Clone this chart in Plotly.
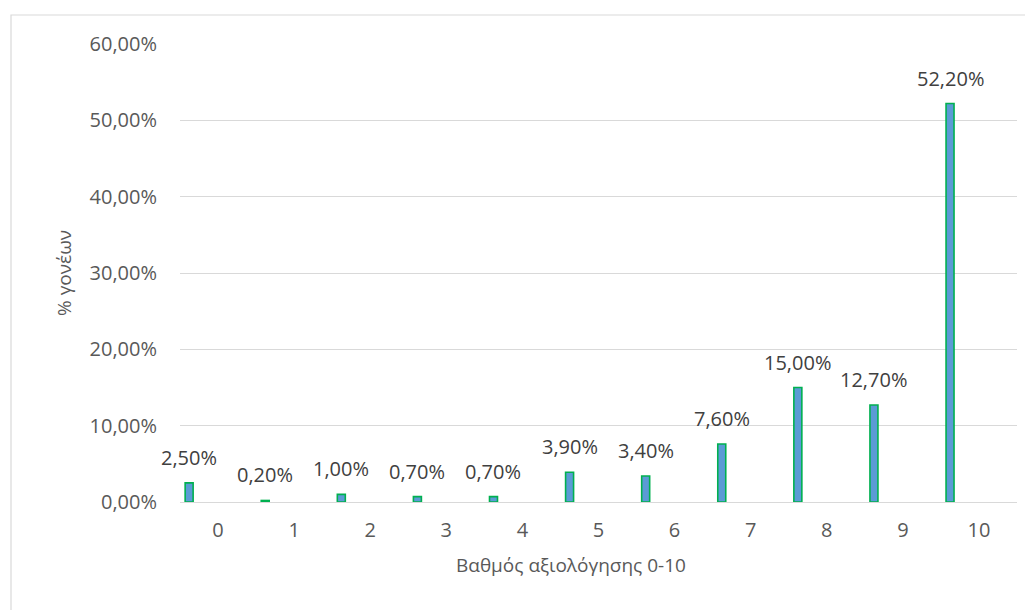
import plotly.graph_objects as go

# ratings 0-10 and share of parents
ratings = [0, 1, 2, 3, 4, 5, 6, 7, 8, 9, 10]
share = [0.025, 0.002, 0.010, 0.007, 0.007, 0.039, 0.034, 0.076, 0.150, 0.127, 0.522]
y_ticks = [0, 0.1, 0.2, 0.3, 0.4, 0.5, 0.6]

font_family = "Open Sans"
num_size = 20
title_size = 19
bar_shift = -0.38  # bars sit left of the category centre (Excel clustered layout)
bar_w = 0.105

# plot area in page pixels (the html body adds an 8px margin)
off = 8
pl, pr, pt, pb = 180, 1017, 44, 502
pw, ph = pr - pl, pb - pt
W, H = 1033 - off, 610 - off

fig = go.Figure()
fig.add_trace(go.Bar(
    x=ratings,
    y=share,
    width=bar_w,
    offset=bar_shift - bar_w / 2,
    marker=dict(color="#5B9BD5", line=dict(color="#00B050", width=1.6)),
    hoverinfo="skip",
))

# data labels above the bars
for r, v in zip(ratings, share):
    fig.add_annotation(
        x=r + bar_shift, y=v, xref="x", yref="y",
        text=f"{v * 100:.2f}%".replace(".", ","),
        showarrow=False, yanchor="bottom", yshift=10,
        font=dict(family=font_family, size=num_size, color="#404040"),
    )

fig.add_annotation(
    x=(49 - pl) / pw, y=0.5, xref="paper", yref="paper",
    text="% γονέων", textangle=-90, showarrow=False,
    font=dict(family=font_family, size=title_size, color="#595959"),
)
fig.add_annotation(
    x=(571 - pl) / pw, y=(pb - 565) / ph, xref="paper", yref="paper",
    text="Βαθμός αξιολόγησης 0-10", showarrow=False, yanchor="middle",
    font=dict(family=font_family, size=title_size, color="#595959"),
)

# chart border
fig.add_shape(type="rect", xref="paper", yref="paper",
              x0=(11 - pl) / pw, y0=-0.4, x1=1.2, y1=(pb - 15) / ph,
              line=dict(color="#D9D9D9", width=1.2), layer="below")

fig.update_layout(
    width=W, height=H,
    margin=dict(l=pl - off, r=W + off - pr, t=pt - off, b=H + off - pb),
    plot_bgcolor="white", paper_bgcolor="white",
    separators=",.",
    showlegend=False,
    font=dict(family=font_family, size=num_size, color="#595959"),
    xaxis=dict(
        range=[-0.5, 10.5], tickvals=ratings, showgrid=False,
        showline=True, linecolor="#D9D9D9", linewidth=1.2,
        ticks="", zeroline=False, ticklabelstandoff=10,
    ),
    yaxis=dict(
        range=[0, 0.6], tickvals=y_ticks, tickformat=".2%",
        showgrid=True, gridcolor="#D9D9D9", gridwidth=1.2,
        zeroline=False, ticks="", ticklabelstandoff=22,
    ),
)

fig.write_html("out.html")
